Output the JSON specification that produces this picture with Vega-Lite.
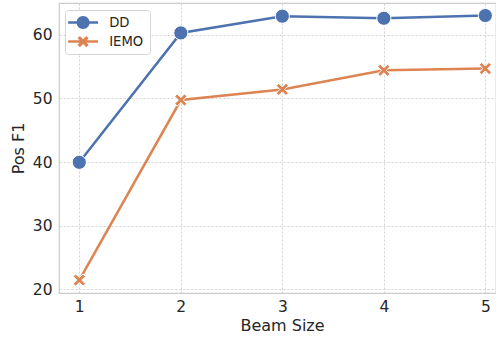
{
  "$schema": "https://vega.github.io/schema/vega-lite/v6.json",
  "width": 437,
  "height": 290,
  "autosize": {"type": "none"},
  "padding": {"left": 59, "top": 3, "right": 0, "bottom": 46},
  "background": "white",
  "config": {
    "font": "DejaVu Sans",
    "view": {"stroke": "#cccccc", "strokeWidth": 1.25},
    "axis": {
      "labelFont": "DejaVu Sans",
      "titleFont": "DejaVu Sans",
      "labelFontSize": 15.5,
      "titleFontSize": 16,
      "labelColor": "#262626",
      "titleColor": "#262626",
      "titleFontWeight": "normal",
      "gridColor": "#cccccc",
      "gridDash": [2, 2],
      "gridWidth": 0.9,
      "ticks": false,
      "domain": false
    },
    "legend": {
      "labelFontSize": 13.2,
      "labelFont": "DejaVu Sans",
      "labelColor": "#262626"
    }
  },
  "data": {
    "values": [
      {"beam": 1, "f1": 39.95, "model": "DD"},
      {"beam": 2, "f1": 60.27, "model": "DD"},
      {"beam": 3, "f1": 62.9, "model": "DD"},
      {"beam": 4, "f1": 62.57, "model": "DD"},
      {"beam": 5, "f1": 63.0, "model": "DD"},
      {"beam": 1, "f1": 21.46, "model": "IEMO"},
      {"beam": 2, "f1": 49.73, "model": "IEMO"},
      {"beam": 3, "f1": 51.4, "model": "IEMO"},
      {"beam": 4, "f1": 54.4, "model": "IEMO"},
      {"beam": 5, "f1": 54.68, "model": "IEMO"}
    ]
  },
  "encoding": {
    "x": {
      "field": "beam",
      "type": "quantitative",
      "scale": {"domain": [0.8, 5.105], "nice": false, "zero": false},
      "axis": {"values": [1, 2, 3, 4, 5], "title": "Beam Size", "labelPadding": 6, "titlePadding": 3, "titleX": 223}
    },
    "y": {
      "field": "f1",
      "type": "quantitative",
      "scale": {"domain": [19.43, 64.97], "nice": false, "zero": false},
      "axis": {"values": [20, 30, 40, 50, 60], "title": "Pos F1", "labelPadding": 7, "titlePadding": 6}
    },
    "color": {
      "field": "model",
      "type": "nominal",
      "scale": {"domain": ["DD", "IEMO"], "range": ["#4c72b0", "#dd8452"]},
      "legend": {
        "title": null,
        "orient": "none",
        "legendX": 6,
        "legendY": 7,
        "fillColor": "white",
        "strokeColor": "#d5d5d5",
        "cornerRadius": 3,
        "padding": 6,
        "labelFontSize": 13.2,
        "symbolSize": 169,
        "symbolStrokeWidth": 0,
        "symbolOffset": 5.5,
        "rowPadding": 4,
        "labelOffset": 19.5
      }
    }
  },
  "layer": [
    {
      "mark": {"type": "line", "strokeWidth": 2.5}
    },
    {
      "mark": {
        "type": "point",
        "filled": true,
        "opacity": 1,
        "stroke": "white",
        "strokeWidth": 1,
        "shape": {"expr": "datum.model === 'DD' ? 'circle' : 'M-1,-0.6L-0.6,-1L0,-0.4L0.6,-1L1,-0.6L0.4,0L1,0.6L0.6,1L0,0.4L-0.6,1L-1,0.6L-0.4,0Z'"},
        "size": {"expr": "datum.model === 'DD' ? 200 : 150"}
      }
    },
    {
      "mark": {"type": "point", "filled": true, "opacity": 0, "size": 169},
      "encoding": {
        "shape": {
          "field": "model",
          "type": "nominal",
          "scale": {"domain": ["DD", "IEMO"], "range": ["M-2.3,-0.19H2.3V0.19H-2.3Z M-1,0A1,1 0 1,1 1,0A1,1 0 1,1 -1,0Z", "M-2.3,-0.19H2.3V0.19H-2.3Z M-0.85,-0.5L-0.5,-0.85L0,-0.35L0.5,-0.85L0.85,-0.5L0.35,0L0.85,0.5L0.5,0.85L0,0.35L-0.5,0.85L-0.85,0.5L-0.35,0Z"]},
          "legend": {
            "title": null,
            "orient": "none",
            "legendX": 6,
            "legendY": 7,
            "fillColor": "white",
            "strokeColor": "#d5d5d5",
            "cornerRadius": 3,
            "padding": 6,
            "labelFontSize": 13.2,
            "symbolSize": 169,
            "symbolStrokeWidth": 0,
            "symbolOffset": 5.5,
            "rowPadding": 4,
            "labelOffset": 19.5
          }
        }
      }
    }
  ]
}
